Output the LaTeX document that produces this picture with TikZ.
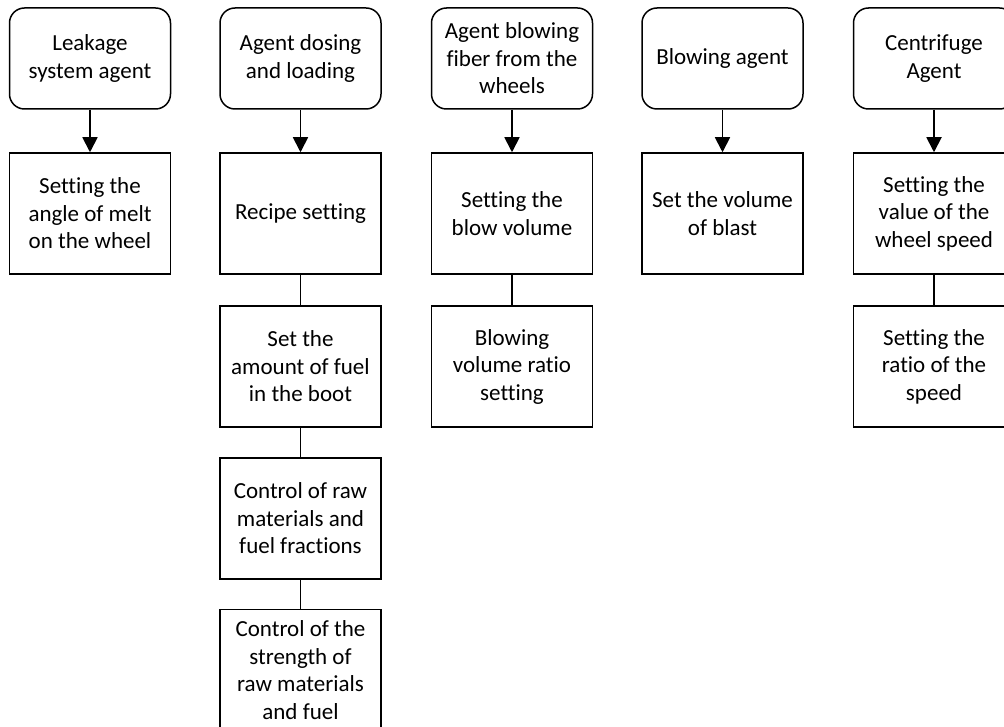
\documentclass[tikz,border=0pt]{standalone}
\usepackage{fontspec}
\setmainfont{Carlito}[Ligatures=NoCommon]
\usetikzlibrary{arrows.meta}
\begin{document}
\begin{tikzpicture}[x=1pt,y=-1pt,
  every node/.style={font=\fontsize{23}{27.5}\selectfont, align=center, inner sep=0pt, line width=1.5pt},
  agent/.style={draw, rounded corners=15pt, minimum width=161pt, minimum height=101pt},
  task/.style={draw, minimum width=161pt, minimum height=121pt},
  arr/.style={line width=1.8pt, -{Triangle[width=15pt,length=15pt]}},
  link/.style={line width=1.7pt}]
\useasboundingbox (0,0) rectangle (1004,727);
% column 1
\node[agent] (a1) at (90,58.5) {Leakage\\system agent};
\node[task] (t11) at (90,213.5) {Setting the\\angle of melt\\on the wheel};
\draw[arr] (a1) -- (t11);
% column 2
\node[agent] (a2) at (300.5,58.5) {Agent dosing\\and loading};
\node[task] (t21) at (300.5,213.5) {Recipe setting};
\node[task] (t22) at (300.5,366.5) {Set the\\amount of fuel\\in the boot};
\node[task] (t23) at (300.5,518.5) {Control of raw\\materials and\\fuel fractions};
\node[task] (t24) at (300.5,670) {Control of the\\strength of\\raw materials\\and fuel};
\draw[arr] (a2) -- (t21);
\draw[link] (t21) -- (t22);
\draw[link] (t22) -- (t23);
\draw[link] (t23) -- (t24);
% column 3
\node[agent] (a3) at (512,58.5) {Agent blowing\\fiber from the\\wheels};
\node[task] (t31) at (512,213.5) {Setting the\\blow volume};
\node[task] (t32) at (512,366.5) {Blowing\\volume ratio\\setting};
\draw[arr] (a3) -- (t31);
\draw[link] (t31) -- (t32);
% column 4
\node[agent] (a4) at (722.5,58.5) {Blowing agent};
\node[task] (t41) at (722.5,213.5) {Set the volume\\of blast};
\draw[arr] (a4) -- (t41);
% column 5
\node[agent] (a5) at (934,58.5) {Centrifuge\\Agent};
\node[task] (t51) at (934,213.5) {Setting the\\value of the\\wheel speed};
\node[task] (t52) at (934,366.5) {Setting the\\ratio of the\\speed};
\draw[arr] (a5) -- (t51);
\draw[link] (t51) -- (t52);
\end{tikzpicture}
\end{document}
